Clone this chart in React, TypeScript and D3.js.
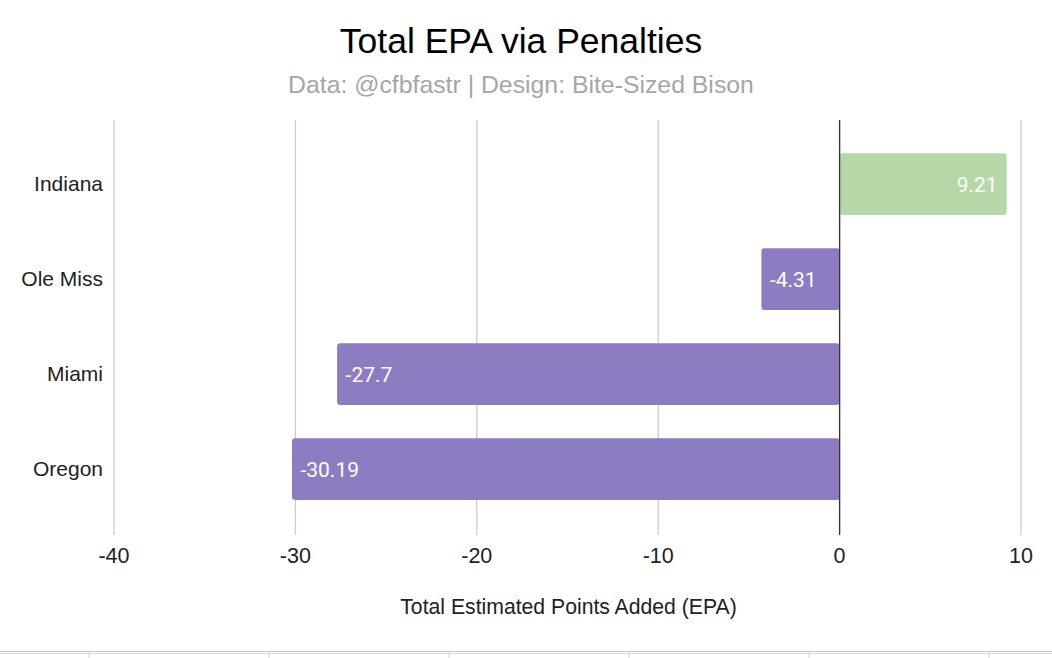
import React from "react";
import * as d3 from "d3";

const teams = ["Indiana", "Ole Miss", "Miami", "Oregon"];
const epaValues = [9.21, -4.31, -27.7, -30.19];
const xTicks = [-40, -30, -20, -10, 0, 10];
const title = "Total EPA via Penalties";
const subtitle = "Data: @cfbfastr | Design: Bite-Sized Bison";
const xTitle = "Total Estimated Points Added (EPA)";
const footTicks = [0, 1, 2, 3, 4, 5];

const W = 1052;
const H = 658;
const sans = "Liberation Sans";

export default function App() {
  const x = d3.scaleLinear().domain([-40, 10]).range([114, 1021]);
  const y = d3
    .scaleBand<string>()
    .domain(teams)
    .range([136.5, 516.5])
    .paddingInner(0.35)
    .paddingOuter(0.175);
  const gridTop = 120;
  const gridBottom = 535;

  return (
    <svg
      width={W}
      height={H}
      style={{ position: "absolute", left: 0, top: 0, background: "#fff" }}
    >
      <rect x={0} y={0} width={W} height={H} fill="#fff" />
      <text x={521} y={53} textAnchor="middle" style={{ fontFamily: sans }} fontSize={35.5} fill="#000">
        {title}
      </text>
      <text x={521} y={93} textAnchor="middle" style={{ fontFamily: sans }} fontSize={24.8} fill="#a6a6a6">
        {subtitle}
      </text>
      {xTicks.map((t) => (
        <line
          key={"g" + t}
          x1={x(t)}
          x2={x(t)}
          y1={gridTop}
          y2={gridBottom}
          stroke="#cccccc"
          strokeWidth={1.3}
        />
      ))}
      {teams.map((team, i) => {
        const v = epaValues[i];
        const x0 = x(Math.min(0, v));
        const x1 = x(Math.max(0, v));
        const by = y(team) as number;
        const bh = y.bandwidth();
        return (
          <g key={team}>
            <rect
              x={x0}
              y={by}
              width={x1 - x0}
              height={bh}
              rx={3}
              fill={v >= 0 ? "#b6d7a8" : "#8e7cc3"}
            />
            <text
              x={v >= 0 ? x1 - 9 : x0 + 8.5}
              y={by + bh / 2}
              dy="0.36em"
              textAnchor={v >= 0 ? "end" : "start"}
              style={{ fontFamily: "Roboto" }}
              fontSize={21}
              fill="#fff"
            >
              {String(v)}
            </text>
            <text
              x={103}
              y={by + bh / 2}
              dy="0.33em"
              textAnchor="end"
              style={{ fontFamily: sans }}
              fontSize={21}
              fill="#222"
            >
              {team}
            </text>
          </g>
        );
      })}
      <line x1={x(0)} x2={x(0)} y1={gridTop} y2={gridBottom} stroke="#333" strokeWidth={1.3} />
      {xTicks.map((t) => (
        <text
          key={"t" + t}
          x={x(t)}
          y={555}
          dy="0.36em"
          textAnchor="middle"
          style={{ fontFamily: sans }}
          fontSize={21.5}
          fill="#222"
        >
          {String(t)}
        </text>
      ))}
      <text x={568.5} y={606} dy="0.36em" textAnchor="middle" style={{ fontFamily: sans }} fontSize={21.2} fill="#222">
        {xTitle}
      </text>
      <line x1={0} x2={W} y1={651.5} y2={651.5} stroke="#c8c8c8" strokeWidth={1} />
      <line x1={0} x2={W} y1={653.5} y2={653.5} stroke="#d8d8d8" strokeWidth={1} />
      {footTicks.map((k) => (
        <line
          key={"f" + k}
          x1={89 + k * 180}
          x2={89 + k * 180}
          y1={652}
          y2={H}
          stroke="#d0d0d0"
          strokeWidth={1}
        />
      ))}
    </svg>
  );
}
